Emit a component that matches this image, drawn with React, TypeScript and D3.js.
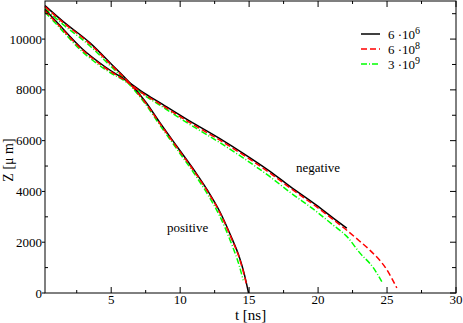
import React from "react";
import * as d3 from "d3";

// positive branch
const posT6 = [0.2, 1.5, 3.44, 5, 6.34, 7.5, 8.52, 9.73, 11.06, 12.0, 12.88, 13.75, 14.3, 14.6, 14.96];
const posZ6 = [11320, 10700, 9860, 9020, 8280, 7520, 6720, 5800, 4800, 4030, 3200, 2150, 1400, 850, 0];
const posT8 = [0.2, 1.5, 3.44, 5, 6.34, 7.5, 8.52, 9.73, 11.06, 12.0, 12.88, 13.75, 14.3, 14.6, 14.85];
const posZ8 = [11280, 10660, 9820, 8980, 8250, 7480, 6680, 5760, 4760, 3990, 3160, 2110, 1360, 800, 250];
const posT9 = [0.2, 1.5, 3.44, 5, 6.34, 7.5, 8.52, 9.73, 11.06, 12.0, 12.88, 13.75, 14.3, 14.57];
const posZ9 = [11200, 10580, 9740, 8910, 8200, 7430, 6620, 5690, 4670, 3880, 3020, 1900, 1050, 500];

// negative branch
const negT6 = [0.2, 1.0, 2.93, 4.5, 6.34, 7.31, 8.52, 10.46, 12.88, 14.57, 16.51, 17.96, 19.9, 21.1, 22.08];
const negZ6 = [11160, 10700, 9600, 8930, 8280, 7900, 7500, 6850, 6080, 5500, 4790, 4200, 3450, 2950, 2550];
const negT8 = [0.2, 1.0, 2.93, 4.5, 6.34, 7.31, 8.52, 10.46, 12.88, 14.57, 16.51, 17.96, 19.9, 21.1, 22.08, 23.0, 23.77, 24.98, 25.71];
const negZ8 = [11120, 10660, 9560, 8890, 8250, 7850, 7450, 6790, 6020, 5440, 4730, 4140, 3390, 2890, 2470, 2050, 1680, 920, 200];
const negT9 = [0.2, 1.0, 2.93, 4.5, 6.34, 7.31, 8.52, 10.46, 12.88, 14.57, 16.51, 17.96, 19.9, 21.1, 22.08, 23.04, 24.0, 24.62];
const negZ9 = [11060, 10600, 9490, 8830, 8220, 7820, 7400, 6720, 5920, 5320, 4580, 3970, 3200, 2670, 2230, 1570, 1000, 450];

const xMajor = [5, 10, 15, 20, 25, 30];
const xMinor = [2.5, 7.5, 12.5, 17.5, 22.5, 27.5];
const yMajor = [0, 2000, 4000, 6000, 8000, 10000];
const yMinor = [1000, 3000, 5000, 7000, 9000, 11000];

const legendItems = [
  { base: "6 \u00b710", exp: "6", color: "#000000", dash: "" },
  { base: "6 \u00b710", exp: "8", color: "#ff0000", dash: "6,3" },
  { base: "3 \u00b710", exp: "9", color: "#00ff00", dash: "6,2,1,2" },
];

const W = 463;
const H = 323;
const left = 45, right = 456, top = 1, bottom = 293;
const font = "'Liberation Serif', 'DejaVu Serif', serif";

export default function App() {
  const x = d3.scaleLinear().domain([0.2, 30]).range([left, right]);
  const y = d3.scaleLinear().domain([0, 11500]).range([bottom, top]);
  const line = d3
    .line<[number, number]>()
    .x((d) => x(d[0]))
    .y((d) => y(d[1]))
    .curve(d3.curveMonotoneX);

  const zip = (t: number[], z: number[]) => t.map((v, i) => [v, z[i]] as [number, number]);

  const series = [
    { d: zip(posT9, posZ9), color: "#00ff00", dash: "6,2,1,2" },
    { d: zip(negT9, negZ9), color: "#00ff00", dash: "6,2,1,2" },
    { d: zip(posT6, posZ6), color: "#000000", dash: "" },
    { d: zip(negT6, negZ6), color: "#000000", dash: "" },
    { d: zip(posT8, posZ8), color: "#ff0000", dash: "6,3" },
    { d: zip(negT8, negZ8), color: "#ff0000", dash: "6,3" },
  ];

  return (
    <div style={{ position: "absolute", left: 0, top: 0 }}>
      <svg width={W} height={H} style={{ display: "block", background: "#fff" }}>
        {/* curves */}
        {series.map((s, i) => (
          <path
            key={i}
            d={line(s.d) || ""}
            fill="none"
            stroke={s.color}
            strokeWidth={1.5}
            strokeDasharray={s.dash || undefined}
          />
        ))}

        {/* frame */}
        <rect x={left} y={top} width={right - left} height={bottom - top} fill="none" stroke="#000" strokeWidth={1} />

        {/* x ticks */}
        {xMajor.map((v) => (
          <g key={"xm" + v}>
            <line x1={x(v)} x2={x(v)} y1={bottom} y2={bottom - 6} stroke="#000" />
            <line x1={x(v)} x2={x(v)} y1={top} y2={top + 6} stroke="#000" />
            <text x={x(v)} y={304} fontSize={13} fontFamily={font} textAnchor="middle">
              {v}
            </text>
          </g>
        ))}
        {xMinor.map((v) => (
          <g key={"xn" + v}>
            <line x1={x(v)} x2={x(v)} y1={bottom} y2={bottom - 3} stroke="#000" />
            <line x1={x(v)} x2={x(v)} y1={top} y2={top + 3} stroke="#000" />
          </g>
        ))}

        {/* y ticks */}
        {yMajor.map((v) => (
          <g key={"ym" + v}>
            <line x1={left - 3} x2={left} y1={y(v)} y2={y(v)} stroke="#000" />
            <line x1={right} x2={right - 6} y1={y(v)} y2={y(v)} stroke="#000" />
            <text x={42} y={y(v)} fontSize={13} fontFamily={font} textAnchor="end" dominantBaseline="central">
              {v}
            </text>
          </g>
        ))}
        {yMinor.map((v) => (
          <g key={"yn" + v}>
            <line x1={left} x2={left + 3} y1={y(v)} y2={y(v)} stroke="#000" />
            <line x1={right} x2={right - 4} y1={y(v)} y2={y(v)} stroke="#000" />
          </g>
        ))}

        {/* axis titles */}
        <text x={(left + right) / 2} y={320} fontSize={15} fontFamily={font} textAnchor="middle">
          t [ns]
        </text>
        <text transform="translate(13,160) rotate(-90)" fontSize={14} fontFamily={font} textAnchor="middle">
          Z [μ m]
        </text>

        {/* annotations */}
        <text x={296} y={172} fontSize={13} fontFamily={font}>negative</text>
        <text x={167} y={232} fontSize={13} fontFamily={font}>positive</text>

        {/* legend */}
        {legendItems.map((it, i) => {
          const ly = 34 + i * 15;
          return (
            <g key={"lg" + i}>
              <line x1={361} x2={380} y1={ly} y2={ly} stroke={it.color} strokeWidth={1.5} strokeDasharray={it.dash || undefined} />
              <text x={388} y={ly + 4.5} fontSize={13} fontFamily={font}>
                {it.base}
                <tspan dy={-5} fontSize={10}>{it.exp}</tspan>
              </text>
            </g>
          );
        })}
      </svg>
    </div>
  );
}
